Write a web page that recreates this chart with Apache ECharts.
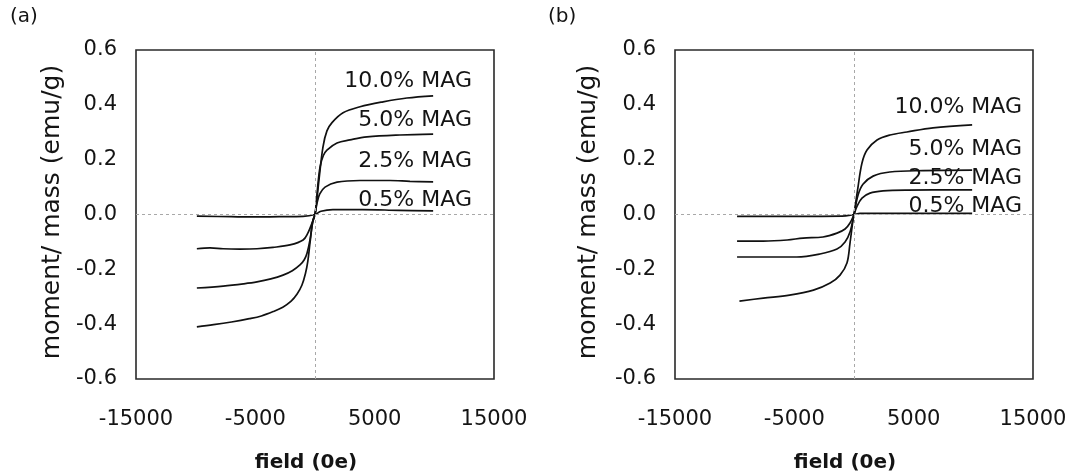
<!DOCTYPE html>
<html>
<head>
<meta charset="utf-8">
<script src="https://cdn.jsdelivr.net/npm/echarts@6/dist/echarts.min.js"></script>
<style>
html,body{margin:0;padding:0;background:#fff;}
#chart{width:1071px;height:476px;}
</style>
</head>
<body>
<div id="chart"></div>
<script>
// ---- data (field in Oe, moment/mass in emu/g) ----
const seriesNames = ['10.0% MAG', '5.0% MAG', '2.5% MAG', '0.5% MAG'];

// Panel (a)
const a_mag10 = [[-9900,-0.41],[-8500,-0.402],[-7000,-0.392],[-5500,-0.38],[-4500,-0.37],[-3500,-0.354],[-2700,-0.338],[-2000,-0.316],[-1500,-0.29],[-1100,-0.258],[-800,-0.215],[-600,-0.17],[-420,-0.104],[-200,-0.03],[0,0],[150,0.05],[335,0.127],[670,0.247],[1000,0.305],[1425,0.335],[2350,0.371],[3770,0.393],[5700,0.411],[7700,0.425],[9900,0.433]];
const a_mag5 = [[-9900,-0.268],[-7700,-0.261],[-6000,-0.253],[-4860,-0.246],[-3700,-0.235],[-2680,-0.221],[-1900,-0.205],[-1260,-0.184],[-900,-0.165],[-670,-0.141],[-420,-0.093],[-170,-0.02],[0,0],[200,0.09],[420,0.173],[700,0.215],[1000,0.235],[1845,0.261],[2930,0.272],[4360,0.283],[7120,0.29],[9900,0.293]];
const a_mag25 = [[-9900,-0.125],[-8800,-0.122],[-7700,-0.125],[-6300,-0.126],[-4860,-0.125],[-3520,-0.12],[-2100,-0.111],[-1000,-0.093],[-590,-0.067],[-250,-0.031],[0,0],[170,0.042],[400,0.075],[840,0.1],[1845,0.118],[3770,0.124],[6285,0.124],[7960,0.121],[9900,0.119]];
const a_mag05 = [[-9900,-0.006],[-7000,-0.008],[-5500,-0.009],[-3000,-0.008],[-1000,-0.007],[0,0],[500,0.012],[1500,0.018],[4000,0.018],[7000,0.015],[9900,0.013]];

// Panel (b)
const b_mag10 = [[-9600,-0.316],[-7600,-0.305],[-5400,-0.294],[-3400,-0.276],[-2000,-0.25],[-1170,-0.221],[-590,-0.177],[-335,-0.104],[-84,-0.02],[0,0],[335,0.1],[670,0.188],[1090,0.235],[1930,0.272],[3020,0.29],[4440,0.301],[6620,0.316],[9900,0.327]];
const b_mag5 = [[-9800,-0.155],[-7600,-0.155],[-4800,-0.155],[-2850,-0.144],[-1425,-0.126],[-750,-0.1],[-335,-0.064],[0,0],[335,0.07],[750,0.11],[1600,0.14],[3000,0.155],[5800,0.16],[9900,0.162]];
const b_mag25 = [[-9800,-0.097],[-7600,-0.097],[-5600,-0.093],[-4270,-0.086],[-2600,-0.082],[-1425,-0.068],[-750,-0.053],[-335,-0.031],[0,0],[250,0.03],[670,0.06],[1340,0.078],[2430,0.086],[4440,0.089],[9900,0.09]];
const b_mag05 = [[-9800,-0.007],[-5000,-0.007],[-1000,-0.006],[0,0],[500,0.004],[3000,0.004],[9900,0.004]];

// annotation anchors (right edge of text, vertical centre), data coords
const a_labelX = 13150;
const a_labelY = [0.487, 0.345, 0.195, 0.053];
const b_labelX = 14080;
const b_labelY = [0.392, 0.239, 0.133, 0.031];

// axis ticks
const xMin = -15000, xMax = 15000, xStep = 10000;
const yMin = -0.6, yMax = 0.6, yStep = 0.2;

const panelTags = ['(a)', '(b)'];
const xTitle = 'field (0e)';
const yTitle = 'moment/ mass (emu/g)';

// ---- chart ----
const FONT = '"DejaVu Sans", "Liberation Sans", Arial, sans-serif';
const TXT = '#141414';
const chart = echarts.init(document.getElementById('chart'), null, {renderer: 'canvas'});

const grids = [
  {left: 136, top: 50, width: 358, height: 329},
  {left: 675, top: 50, width: 358, height: 329}
];

function xAxisFor(i) {
  return {
    type: 'value', gridIndex: i, min: xMin, max: xMax, interval: xStep,
    axisLine: {show: false}, axisTick: {show: false}, splitLine: {show: false},
    axisLabel: {color: TXT, fontFamily: FONT, fontSize: 21, margin: 30,
      formatter: v => String(Math.round(v))}
  };
}
function yAxisFor(i) {
  return {
    type: 'value', gridIndex: i, min: yMin, max: yMax, interval: yStep,
    axisLine: {show: false}, axisTick: {show: false}, splitLine: {show: false},
    axisLabel: {color: TXT, fontFamily: FONT, fontSize: 21, margin: 19,
      formatter: v => (Math.abs(v) < 1e-9 ? 0 : v).toFixed(1)}
  };
}

function curve(data, gi) {
  return {
    type: 'line', xAxisIndex: gi, yAxisIndex: gi, data: data,
    showSymbol: false, smooth: 0.35, silent: true,
    lineStyle: {color: '#111', width: 1.7}
  };
}
function zeroLines(gi) {
  return {
    type: 'line', xAxisIndex: gi, yAxisIndex: gi, data: [], silent: true,
    markLine: {
      silent: true, symbol: 'none', animation: false,
      lineStyle: {color: '#a8a8a8', type: [3, 3], width: 1},
      label: {show: false},
      data: [{xAxis: 0}, {yAxis: 0}]
    }
  };
}
function labels(gi, xv, ys) {
  return {
    type: 'scatter', xAxisIndex: gi, yAxisIndex: gi, symbolSize: 0, silent: true,
    itemStyle: {opacity: 1},
    data: ys.map((y, k) => ({value: [xv, y], name: seriesNames[k]})),
    label: {show: true, position: 'left', distance: 0, formatter: p => p.name,
      color: TXT, opacity: 1, fontFamily: FONT, fontSize: 22}
  };
}

const graphics = [];
const tagX = [10, 548];
const yTitleX = [52, 588];
const xTitleX = [306, 845];
for (let i = 0; i < 2; i++) {
  graphics.push({type: 'text', x: tagX[i], y: 17,
    style: {text: panelTags[i], font: '20px ' + FONT, fill: TXT, textAlign: 'left', textVerticalAlign: 'middle'}});
  graphics.push({type: 'text', x: yTitleX[i], y: 212, rotation: Math.PI / 2,
    style: {text: yTitle, font: '25px ' + FONT, fill: TXT, textAlign: 'center', textVerticalAlign: 'middle'}});
  graphics.push({type: 'text', x: xTitleX[i], y: 463,
    style: {text: xTitle, font: 'bold 20px ' + FONT, fill: TXT, textAlign: 'center', textVerticalAlign: 'middle'}});
}

chart.setOption({
  backgroundColor: '#fff',
  animation: false,
  grid: grids.map(g => Object.assign({show: true, borderColor: '#2a2a2a', borderWidth: 1.6, backgroundColor: 'transparent'}, g)),
  xAxis: [xAxisFor(0), xAxisFor(1)],
  yAxis: [yAxisFor(0), yAxisFor(1)],
  graphic: graphics,
  series: [
    zeroLines(0), zeroLines(1),
    curve(a_mag10, 0), curve(a_mag5, 0), curve(a_mag25, 0), curve(a_mag05, 0),
    curve(b_mag10, 1), curve(b_mag5, 1), curve(b_mag25, 1), curve(b_mag05, 1),
    labels(0, a_labelX, a_labelY), labels(1, b_labelX, b_labelY)
  ]
});
</script>
</body>
</html>
